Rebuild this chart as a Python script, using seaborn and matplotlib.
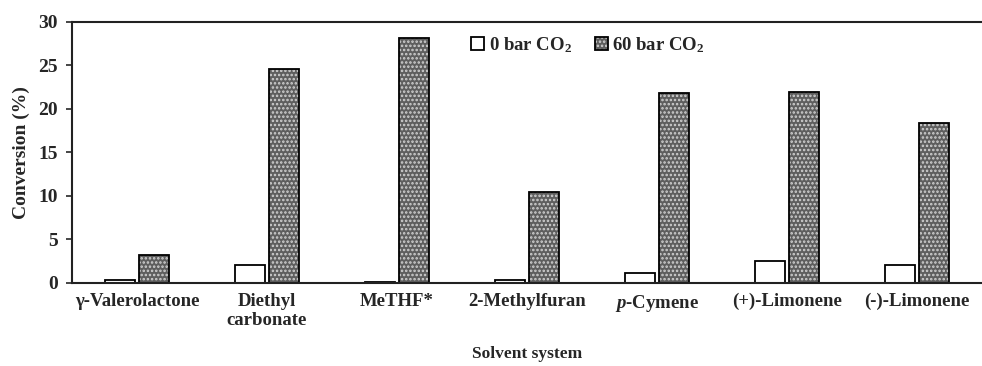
import matplotlib
matplotlib.use('Agg')

import pandas as pd
import seaborn as sns
import matplotlib.pyplot as plt

solvents = ["γ-Valerolactone", "Diethyl\ncarbonate", "MeTHF*", "2-Methylfuran",
            "$\\it{p}$-Cymene", "(+)-Limonene", "(-)-Limonene"]
conv_0bar = [0.4, 2.1, 0.1, 0.4, 1.2, 2.5, 2.1]
conv_60bar = [3.2, 24.6, 28.1, 10.5, 21.8, 22.0, 18.4]
series = ["0 bar CO$_2$", "60 bar CO$_2$"]

df = pd.DataFrame({
    "Solvent": solvents * 2,
    "Conversion": conv_0bar + conv_60bar,
    "Series": [series[0]] * len(solvents) + [series[1]] * len(solvents),
})

sns.set_style("white")
plt.rcParams['font.family'] = ['Liberation Serif', 'DejaVu Serif']
plt.rcParams['font.weight'] = 'bold'
plt.rcParams['mathtext.fontset'] = 'custom'
plt.rcParams['mathtext.rm'] = 'Liberation Serif:bold'
plt.rcParams['mathtext.it'] = 'Liberation Serif:italic:bold'
plt.rcParams['mathtext.default'] = 'rm'
plt.rcParams['hatch.linewidth'] = 1.2

fig = plt.figure(figsize=(9.82, 3.66), dpi=100)
ax = fig.add_axes([0.0733, 0.2268, 0.9267, 0.7132])

sns.barplot(data=df, x="Solvent", y="Conversion", hue="Series",
            palette=["white", "#5e5e5e"], width=0.52, gap=0.09,
            edgecolor="black", linewidth=1.3, ax=ax)

# dotted texture on the 60 bar bars
hatch_col = (0.82, 0.82, 0.82, 1.0)
for p in ax.containers[1]:
    p.set_hatch("....")
    p._hatch_color = hatch_col

ax.set_ylim(0, 30)
ax.set_yticks(range(0, 31, 5))
ax.set_xlim(-0.5, len(solvents) - 0.5)
ax.tick_params(axis="y", direction="out", length=4, width=1.2, labelsize=14, left=True, pad=6)
ax.tick_params(axis="x", length=0, labelsize=13.5, pad=7)
for lbl in ax.get_xticklabels() + ax.get_yticklabels():
    lbl.set_fontweight("bold")

for s in ["left", "bottom", "top"]:
    ax.spines[s].set_visible(True)
    ax.spines[s].set_color("#222222")
    ax.spines[s].set_linewidth(1.5)
ax.spines["right"].set_visible(False)

ax.set_ylabel("Conversion (%)", fontsize=14, fontweight="bold", labelpad=6)
ax.set_xlabel("Solvent system", fontsize=12.5, fontweight="bold", labelpad=12)

handles, labels = ax.get_legend_handles_labels()
handles[1].set_hatch("....")
handles[1]._hatch_color = hatch_col
ax.legend(handles, labels, loc="center", bbox_to_anchor=(0.567, 0.912), ncol=2,
          frameon=False, handlelength=0.7, handleheight=0.7,
          handletextpad=0.25, columnspacing=1.2, prop={"weight": "bold", "size": 13.5})

fig.savefig("out.png", dpi=100)
